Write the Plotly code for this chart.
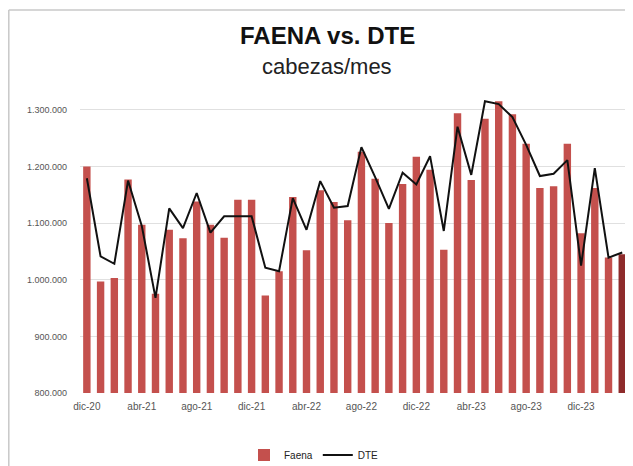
"""Faena vs. DTE - cabezas/mes."""

import plotly.graph_objects as go

meses = [
    "dic-20", "ene-21", "feb-21", "mar-21", "abr-21", "may-21", "jun-21", "jul-21",
    "ago-21", "sep-21", "oct-21", "nov-21", "dic-21", "ene-22", "feb-22", "mar-22",
    "abr-22", "may-22", "jun-22", "jul-22", "ago-22", "sep-22", "oct-22", "nov-22",
    "dic-22", "ene-23", "feb-23", "mar-23", "abr-23", "may-23", "jun-23", "jul-23",
    "ago-23", "sep-23", "oct-23", "nov-23", "dic-23", "ene-24", "feb-24", "mar-24",
]

faena = [
    1200000, 997000, 1003000, 1177000, 1097000, 975000, 1088000, 1073000,
    1138000, 1097000, 1074000, 1141000, 1141000, 972000, 1015000, 1146000,
    1052000, 1158000, 1137000, 1105000, 1226000, 1178000, 1100000, 1169000,
    1217000, 1194000, 1053000, 1294000, 1176000, 1284000, 1315000, 1292000,
    1240000, 1162000, 1165000, 1240000, 1082000, 1162000, 1039000, 1045000,
]

dte = [
    1179000, 1041000, 1028000, 1175000, 1095000, 968000, 1126000, 1091000,
    1153000, 1083000, 1112000, 1112000, 1112000, 1021000, 1015000, 1144000,
    1088000, 1174000, 1127000, 1130000, 1234000, 1181000, 1125000, 1189000,
    1168000, 1218000, 1086000, 1270000, 1185000, 1315000, 1310000, 1287000,
    1238000, 1183000, 1187000, 1211000, 1025000, 1197000, 1039000, 1048000,
]

ticks_x = meses[::4]
ticks_y = [800000, 900000, 1000000, 1100000, 1200000, 1300000]

# la página deja 8px de margen en el body: la figura se corre 8px
OFF = 8
W, H = 633 - OFF, 466 - OFF
L, R, T, B = 80 - OFF, OFF, 95 - OFF, H - (393 - OFF)

colores = ["#C4504D"] * (len(faena) - 1) + ["#8E2B2B"]

fig = go.Figure()
fig.add_trace(go.Bar(
    x=meses, y=faena, name="Faena",
    marker=dict(color=colores, line=dict(width=0)),
))
fig.add_trace(go.Scatter(
    x=meses, y=dte, name="DTE", mode="lines",
    line=dict(color="#111111", width=2),
))


def px(x):
    return (x - OFF - L) / (W - L - R)


def py(y):
    return (H - B - (y - OFF)) / (H - T - B)


# marco del gráfico (bordes grises)
frame = dict(type="line", xref="paper", yref="paper", line=dict(color="#C8C8C8", width=1.5))
fig.add_shape(**frame, x0=px(8.8), x1=px(640), y0=py(10), y1=py(10))
fig.add_shape(**frame, x0=px(8.8), x1=px(8.8), y0=py(10), y1=py(480))

fig.add_annotation(
    text="<b>FAENA vs. DTE</b>", xref="paper", yref="paper",
    x=px(327), y=py(35), showarrow=False, xanchor="center", yanchor="middle",
    font=dict(family="Liberation Sans", size=24, color="#111111"),
)
fig.add_annotation(
    text="cabezas/mes", xref="paper", yref="paper",
    x=px(327), y=py(67), showarrow=False, xanchor="center", yanchor="middle",
    font=dict(family="Liberation Sans", size=22, color="#222222"),
)

fig.update_layout(
    width=W, height=H,
    margin=dict(l=L, r=R, t=T, b=B, autoexpand=False),
    paper_bgcolor="white", plot_bgcolor="white",
    separators=",.",
    bargap=0.46,
    showlegend=True,
    legend=dict(
        orientation="h", xref="container", x=(314 - OFF) / W, xanchor="center",
        yref="container", y=1 - (455 - OFF) / H, yanchor="middle",
        font=dict(family="Liberation Sans", size=10, color="#222222"),
        itemwidth=30, tracegroupgap=0,
    ),
    font=dict(family="Liberation Sans", size=9, color="#404040"),
    xaxis=dict(
        type="category", range=[-0.5, 39.2], automargin=False,
        tickmode="array", tickvals=ticks_x, ticktext=ticks_x,
        showgrid=False, showline=False, ticks="", tickangle=0, ticklabelstandoff=6,
        tickfont=dict(size=10, color="#555555"),
    ),
    yaxis=dict(
        range=[800000, 1326000], tickmode="array", tickvals=ticks_y, automargin=False,
        tickformat=",.0f", showgrid=True, gridcolor="#E0E0E0", gridwidth=1,
        zeroline=False, showline=False, ticks="", ticklabelstandoff=12,
        tickfont=dict(size=9, color="#555555"),
    ),
)

fig.write_html("out.html")
